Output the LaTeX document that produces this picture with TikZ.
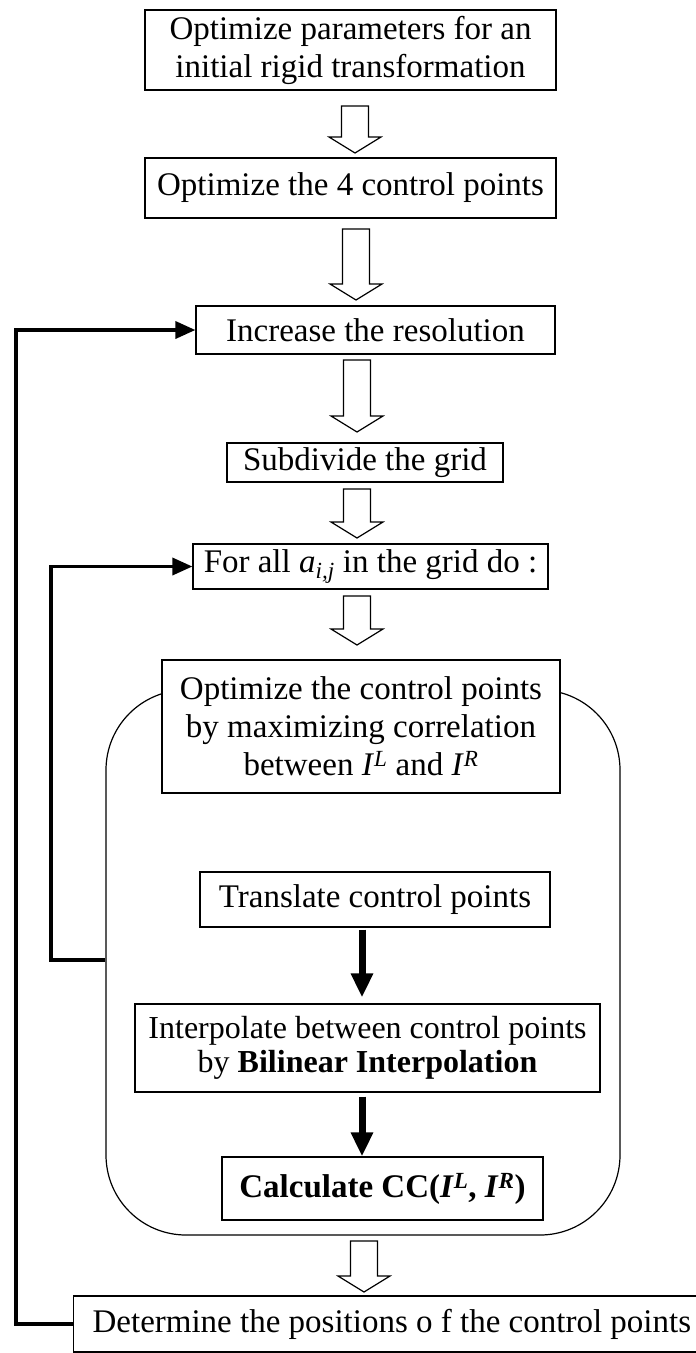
\documentclass[tikz,border=0pt]{standalone}
\usepackage{fontspec}
\setmainfont{Liberation Serif}
\usetikzlibrary{arrows.meta,calc}

\begin{document}
\begin{tikzpicture}[x=1pt,y=-1pt,
  box/.style={draw,line width=1.2pt,fill=white,inner sep=3pt,align=center,
    font=\fontsize{33}{38}\selectfont},
  hollow/.style={line width=1.2pt,to path={
    let \p1=(\tikztostart), \p2=(\tikztotarget) in
    (\x1-13.5pt,\y1) -- (\x1+13.5pt,\y1) -- (\x1+13.5pt,\y2+16pt)
    -- (\x1+26pt,\y2+16pt) -- (\x2,\y2) -- (\x1-26pt,\y2+16pt)
    -- (\x1-13.5pt,\y2+16pt) -- cycle}},
  loopline/.style={line width=3.5pt,-{Triangle[length=20pt,width=17pt]}},
  stepline/.style={line width=7pt,-{Triangle[length=24pt,width=21pt]}}]
\useasboundingbox (0,0) rectangle (696,1353);
\node[draw,line width=1.2pt,rounded corners=80pt,minimum width=514pt,
  minimum height=545pt] (loopbox) at (363,962.5) {};
\node[box,minimum width=411pt,minimum height=80pt] (rigid) at (350.5,50)
  {Optimize parameters for an\\initial rigid transformation};
\node[box,minimum width=411pt,minimum height=60pt] (four) at (350.5,188)
  {Optimize the 4 control points};
\node[box,minimum width=359pt,minimum height=48pt] (res) at (375.5,330)
  {Increase the resolution};
\node[box,minimum width=276pt,minimum height=39pt] (subdiv) at (365,462.5)
  {Subdivide the grid};
\node[box,minimum width=355pt,minimum height=45pt] (grid) at (370.5,566.5)
  {For all \textit{a}\textsubscript{\textit{i,j}} in the grid do :};
\node[box,minimum width=398pt,minimum height=133pt] (optim) at (361,726.5)
  {Optimize the control points\\by maximizing correlation\\between
   \textit{I}\textsuperscript{\textit{L}} and \textit{I}\textsuperscript{\textit{R}}};
\node[box,minimum width=350pt,minimum height=55pt] (trans) at (375,899.5)
  {Translate control points};
\node[box,minimum width=465pt,minimum height=88pt,
  font=\fontsize{32}{34}\selectfont] (interp) at (367.5,1048)
  {Interpolate between control points\\by \textbf{Bilinear Interpolation}};
\node[box,minimum width=321pt,minimum height=63pt] (corr) at (382.5,1188.5)
  {\textbf{Calculate CC(\textit{I}\textsuperscript{\textit{L}},
   \textit{I}\textsuperscript{\textit{R}})}};
\node[box,anchor=west,inner xsep=19pt,minimum height=56pt] (det) at (73,1324)
  {Determine the positions o f the control points};
\coordinate (h1a) at (355,106);
\coordinate (h1b) at (355,153);
\coordinate (h2a) at (356,229);
\coordinate (h2b) at (356,300);
\coordinate (h3a) at (357,360);
\coordinate (h3b) at (357,432);
\coordinate (h4a) at (357,489);
\coordinate (h4b) at (357,538);
\coordinate (h5a) at (357,596);
\coordinate (h5b) at (357,645);
\coordinate (h6a) at (364,1241);
\coordinate (h6b) at (364,1292);
\draw[hollow] (h1a) to (h1b);
\draw[hollow] (h2a) to (h2b);
\draw[hollow] (h3a) to (h3b);
\draw[hollow] (h4a) to (h4b);
\draw[hollow] (h5a) to (h5b);
\draw[hollow] (h6a) to (h6b);
\draw[stepline,shorten <=2pt,shorten >=6pt] (trans.south -| 362,0) -- (interp.north -| 362,0);
\draw[stepline,shorten <=4pt] (interp.south -| 362,0) -- (corr.north -| 362,0);
\coordinate (outer) at (16,1324);
\draw[loopline] (det.west) -- (outer) |- (res.west);
\coordinate (inner) at (51,960);
\draw[loopline] (inner -| loopbox.west) -- (inner) |- (grid.west);
\end{tikzpicture}
\end{document}
